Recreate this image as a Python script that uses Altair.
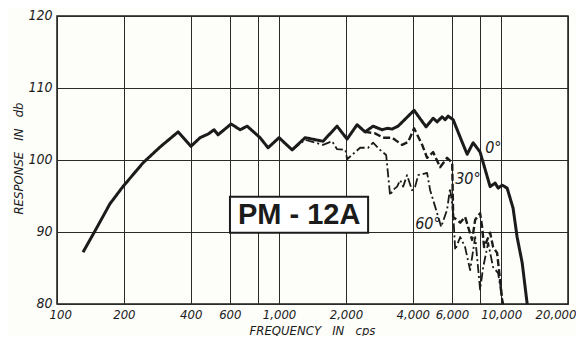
import altair as alt
import pandas as pd

# 0 degree response (solid)
f0 = [131, 148, 173, 198, 244, 291, 351, 401, 441, 479, 510, 531, 608, 668, 718, 821, 892,
      1000, 1145, 1310, 1578, 1824, 2024, 2245, 2440, 2650, 2910, 3065, 3230, 3435, 4055,
      4592, 4940, 5150, 5420, 5595, 5770, 6080, 6670, 7030, 7480, 8040, 8920, 9400, 9690,
      10110, 10640, 11320, 11800, 12440, 13100]
db0 = [87.2, 90.1, 93.9, 96.3, 99.6, 101.8, 103.9, 101.9, 103.1, 103.6, 104.2, 103.5, 105.0,
       104.2, 104.7, 103.1, 101.7, 103.1, 101.4, 103.1, 102.6, 104.7, 102.9, 104.9, 103.9,
       104.7, 104.2, 104.4, 104.3, 104.7, 106.9, 104.6, 105.8, 105.3, 106.0, 105.6, 106.1,
       105.6, 102.5, 100.8, 102.4, 101.1, 96.3, 96.8, 96.1, 96.5, 96.1, 93.3, 89.3, 85.7, 80.0]

# 30 degree response (dashed)
f30 = [2245, 2440, 2705, 2940, 3230, 3580, 3810, 4055, 4410, 4640, 4940, 5310, 5710, 6020,
       6080, 6540, 6880, 7100, 7400, 7640, 8040, 8210, 8380, 8650, 8920, 9200, 9590, 10110, 10200]
db30 = [104.9, 103.9, 103.7, 103.1, 103.1, 102.1, 102.5, 104.4, 102.1, 100.3, 101.1, 99.0,
        100.3, 99.6, 92.1, 91.3, 92.1, 90.7, 88.9, 91.7, 92.6, 90.7, 87.9, 88.9, 89.9, 87.9,
        87.1, 80.6, 80.0]

# 60 degree response (dash-dot)
f60 = [1145, 1310, 1578, 1733, 1824, 1990, 2024, 2317, 2517, 2650, 2850, 3035, 3162, 3250,
       3400, 3510, 3620, 3770, 3970, 4100, 4230, 4640, 4790, 5150, 5370, 5710, 5890, 6080,
       6210, 6540, 6880, 7250, 7640, 8040, 8300, 8740, 9200, 9690, 10110, 10200]
db60 = [101.4, 102.8, 102.1, 102.6, 101.5, 101.4, 100.1, 101.7, 101.7, 102.4, 101.4, 100.7,
        95.1, 95.8, 96.3, 97.2, 96.3, 97.9, 95.8, 96.3, 97.9, 98.2, 95.8, 92.6, 90.7, 93.1,
        96.1, 92.6, 87.5, 89.3, 87.9, 84.7, 89.3, 82.0, 85.1, 88.5, 85.1, 84.3, 80.6, 80.0]

series_names = ["0°", "30°", "60°"]
x_ticks = [100, 200, 400, 600, 800, 1000, 2000, 4000, 6000, 8000, 10000, 20000]
y_ticks = [80, 90, 100, 110, 120]

# curve labels
lab_text = ["0°", "30°", "60°"]
lab_f = [8470, 6210, 4100]
lab_db = [101.7, 97.4, 91.1]

# model label box
model_name = "PM - 12A"
box_f = [601, 2517]
box_db = [89.9, 94.9]
model_f = 1231
model_db = 92.4

rows = []
for name, fs, dbs in zip(series_names, [f0, f30, f60], [db0, db30, db60]):
    for f, d in zip(fs, dbs):
        rows.append({"series": name, "f": f, "db": d})
df = pd.DataFrame(rows)

FONT = "Liberation Sans Narrow, DejaVu Sans Condensed, Arial Narrow, sans-serif"
INK = "#1b1b1b"
SP = "\u00a0\u00a0\u00a0"

xscale = alt.Scale(type="log", domain=[100, 20000], nice=False)
yscale = alt.Scale(domain=[80, 120], nice=False, zero=False)

xaxis = alt.Axis(
    values=x_ticks,
    labelExpr="(datum.value == 800 || datum.value == 8000) ? '' : format(datum.value, ',')",
    title="FREQUENCY" + SP + "IN" + SP + "cps",
    titleX=255, titleY=26, titleAlign="center", titleBaseline="middle",
    labelPadding=4, labelFlush=True, labelFlushOffset=8, labelOverlap=False,
    labelFontSize=13,
)
yaxis = alt.Axis(
    values=y_ticks,
    title="RESPONSE" + SP + "IN" + SP + "db",
    titleX=-39, titleY=142, titleAlign="center", titleBaseline="middle", titleAngle=-90,
    labelPadding=5, labelOffset=-1,
)

lines = alt.Chart(df).mark_line(color=INK, strokeCap="butt", strokeJoin="round").encode(
    x=alt.X("f:Q", scale=xscale, axis=xaxis),
    y=alt.Y("db:Q", scale=yscale, axis=yaxis),
    detail="series:N",
    strokeDash=alt.StrokeDash("series:N", scale=alt.Scale(domain=series_names,
                              range=[[1, 0], [7, 3], [9, 3, 2, 3]]), legend=None),
    strokeWidth=alt.StrokeWidth("series:N", scale=alt.Scale(domain=series_names,
                                range=[3, 1.8, 1.8]), legend=None),
)

lab_df = pd.DataFrame({"t": lab_text, "f": lab_f, "db": lab_db})
labels = alt.Chart(lab_df).mark_text(
    align="left", baseline="middle", font=FONT, fontStyle="italic", fontSize=16, color=INK
).encode(x=alt.X("f:Q", scale=xscale), y=alt.Y("db:Q", scale=yscale), text="t:N")

box_df = pd.DataFrame({"f1": [box_f[0]], "f2": [box_f[1]], "d1": [box_db[0]], "d2": [box_db[1]]})
box = alt.Chart(box_df).mark_rect(fill="white", stroke=INK, strokeWidth=2).encode(
    x=alt.X("f1:Q", scale=xscale), x2="f2:Q",
    y=alt.Y("d1:Q", scale=yscale), y2="d2:Q",
)
model_df = pd.DataFrame({"t": [model_name], "f": [model_f], "db": [model_db]})
model = alt.Chart(model_df).mark_text(
    align="center", baseline="middle", font="Liberation Sans, Arial, sans-serif",
    fontWeight="bold", fontSize=29, color=INK
).encode(x=alt.X("f:Q", scale=xscale), y=alt.Y("db:Q", scale=yscale), text="t:N")

chart = alt.layer(lines, box, model, labels).properties(
    width=511, height=288,
    autosize=alt.AutoSizeParams(type="none"),
    padding={"left": 49, "top": 8, "right": 8, "bottom": 32},
    background="#fdfdfa",
).configure_view(
    stroke=INK, strokeWidth=1.5
).configure_axis(
    grid=True, gridColor="#2a2a2a", gridWidth=1, gridOpacity=1,
    ticks=False, domain=False,
    labelFont=FONT, labelFontStyle="italic", labelFontSize=14, labelColor=INK,
    titleFont=FONT, titleFontStyle="italic", titleFontSize=13, titleFontWeight="normal",
    titleColor=INK,
)

chart.save("out.html", embed_options={"renderer": "svg", "actions": False})
